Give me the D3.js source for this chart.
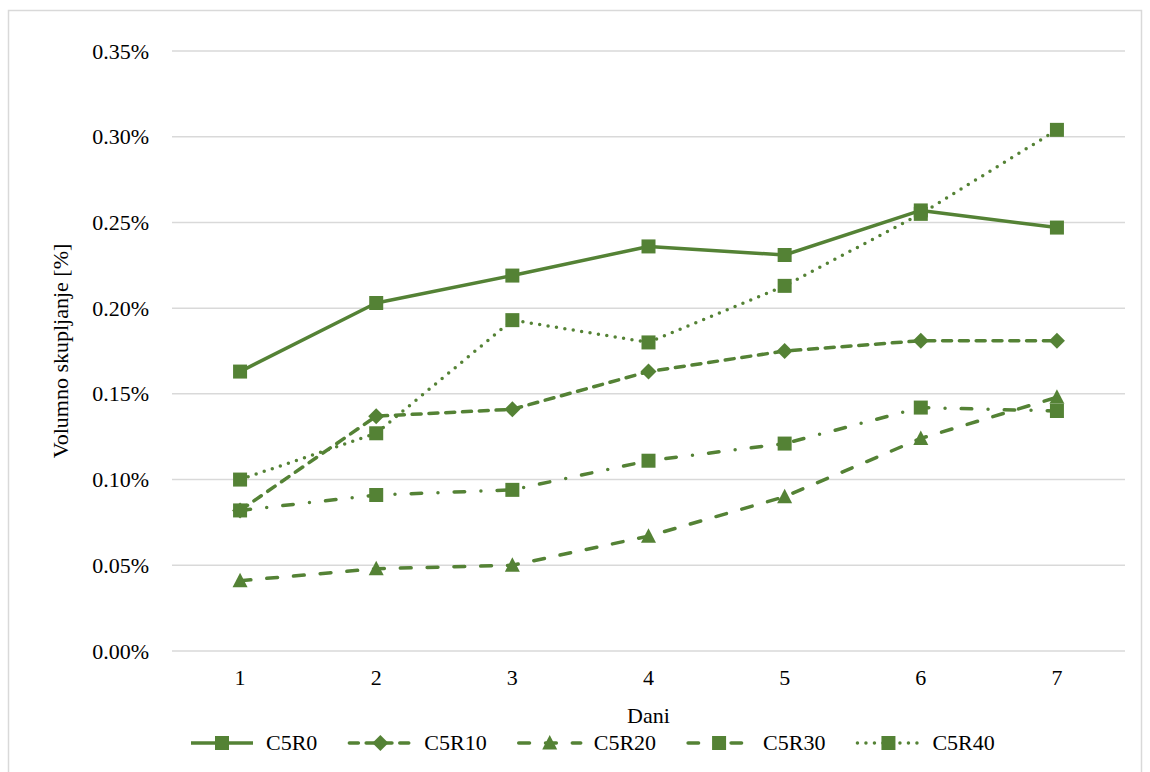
<!DOCTYPE html>
<html>
<head>
<meta charset="utf-8">
<script src="https://cdn.jsdelivr.net/npm/d3@7"></script>
<style>
  html, body { margin: 0; padding: 0; background: #fff; }
  svg { display: block; }
  text { font-family: "Liberation Serif", "Times New Roman", serif; fill: #000; }
</style>
</head>
<body>
<svg id="chart" width="1150" height="772"></svg>
<script>
const days = ["1", "2", "3", "4", "5", "6", "7"];
const seriesNames = ["C5R0", "C5R10", "C5R20", "C5R30", "C5R40"];
const c5r0  = [0.163, 0.203, 0.219, 0.236, 0.231, 0.257, 0.247];
const c5r10 = [0.082, 0.137, 0.141, 0.163, 0.175, 0.181, 0.181];
const c5r20 = [0.041, 0.048, 0.050, 0.067, 0.090, 0.124, 0.148];
const c5r30 = [0.082, 0.091, 0.094, 0.111, 0.121, 0.142, 0.140];
const c5r40 = [0.100, 0.127, 0.193, 0.180, 0.213, 0.255, 0.304];
const yTicks = [0, 0.05, 0.10, 0.15, 0.20, 0.25, 0.30, 0.35];
const yTitle = "Volumno skupljanje [%]";
const xTitle = "Dani";

const green = "#548235";
const styles = {
  "C5R0":  { dash: null,               marker: "square"  },
  "C5R10": { dash: "9,7.8",            marker: "diamond" },
  "C5R20": { dash: "10.8,16",          marker: "triangle"},
  "C5R30": { dash: "10.5,16.3,0,16.2", marker: "square"  },
  "C5R40": { dash: "0,8.5",            marker: "square"  }
};
const data = [c5r0, c5r10, c5r20, c5r30, c5r40].map((v, i) => ({ name: seriesNames[i], values: v }));

const svg = d3.select("#chart");
const m = { left: 172, right: 1125, top: 51, bottom: 651 };

svg.append("rect").attr("x", 8.5).attr("y", 10.5).attr("width", 1133).attr("height", 775)
  .attr("fill", "#fff").attr("stroke", "#d9d9d9").attr("stroke-width", 1.5);

const x = d3.scaleBand().domain(days).range([m.left, m.right]);
const y = d3.scaleLinear().domain([0, 0.35]).range([m.bottom, m.top]);

// gridlines
svg.append("g").selectAll("line").data(yTicks).join("line")
  .attr("x1", m.left).attr("x2", m.right)
  .attr("y1", d => y(d)).attr("y2", d => y(d))
  .attr("stroke", "#d9d9d9").attr("stroke-width", 1.5);

// y axis labels
const yAxis = d3.axisLeft(y).tickValues(yTicks).tickFormat(d => d.toFixed(2) + "%").tickSize(0).tickPadding(0);
const gy = svg.append("g").attr("transform", `translate(149,0)`).call(yAxis);
gy.select(".domain").remove();
gy.selectAll("text").attr("font-size", 22).attr("font-family", "Liberation Serif").attr("fill", "#000");

// x axis labels
const xAxis = d3.axisBottom(x).tickSize(0).tickPadding(0);
const gx = svg.append("g").attr("transform", `translate(0,${m.bottom})`).call(xAxis);
gx.select(".domain").remove();
gx.selectAll("text").attr("font-size", 22).attr("font-family", "Liberation Serif").attr("fill", "#000")
  .attr("dy", null).attr("y", 34);

// titles
svg.append("text").attr("x", (m.left + m.right) / 2).attr("y", 723).attr("text-anchor", "middle")
  .attr("font-size", 22).text(xTitle);
svg.append("text").attr("transform", `translate(68,${(m.top + m.bottom) / 2}) rotate(-90)`)
  .attr("text-anchor", "middle").attr("font-size", 22).text(yTitle);

const cx = d => x(d) + x.bandwidth() / 2;
const line = d3.line().x((v, i) => cx(days[i])).y(v => y(v));

function drawMarker(g, type, px, py) {
  if (type === "square") {
    g.append("rect").attr("x", px - 7).attr("y", py - 7).attr("width", 14).attr("height", 14).attr("fill", green);
  } else if (type === "diamond") {
    g.append("path").attr("d", `M${px},${py - 8}L${px + 8},${py}L${px},${py + 8}L${px - 8},${py}Z`).attr("fill", green);
  } else if (type === "triangle") {
    g.append("path").attr("d", `M${px},${py - 8}L${px + 7.5},${py + 6.5}L${px - 7.5},${py + 6.5}Z`).attr("fill", green);
  }
}

data.forEach(s => {
  const st = styles[s.name];
  const g = svg.append("g");
  g.append("path").attr("d", line(s.values)).attr("fill", "none").attr("stroke", green)
    .attr("stroke-width", 3.5).attr("stroke-linejoin", "round")
    .attr("stroke-linecap", st.dash ? "round" : "butt")
    .attr("stroke-dasharray", st.dash);
  s.values.forEach((v, i) => drawMarker(g, st.marker, cx(days[i]), y(v)));
});

// legend
const legY = 743;
let lx = 191;
data.forEach(s => {
  const st = styles[s.name];
  const g = svg.append("g");
  g.append("line").attr("x1", lx).attr("x2", lx + 62).attr("y1", legY).attr("y2", legY)
    .attr("stroke", green).attr("stroke-width", 3.5)
    .attr("stroke-linecap", st.dash ? "round" : "butt")
    .attr("stroke-dasharray", st.dash);
  drawMarker(g, st.marker, lx + 31, legY);
  const t = g.append("text").attr("x", lx + 75).attr("y", legY + 7).attr("font-size", 22).text(s.name);
  const w = t.node().getComputedTextLength();
  lx = lx + 75 + w + 32;
});
</script>
</body>
</html>
